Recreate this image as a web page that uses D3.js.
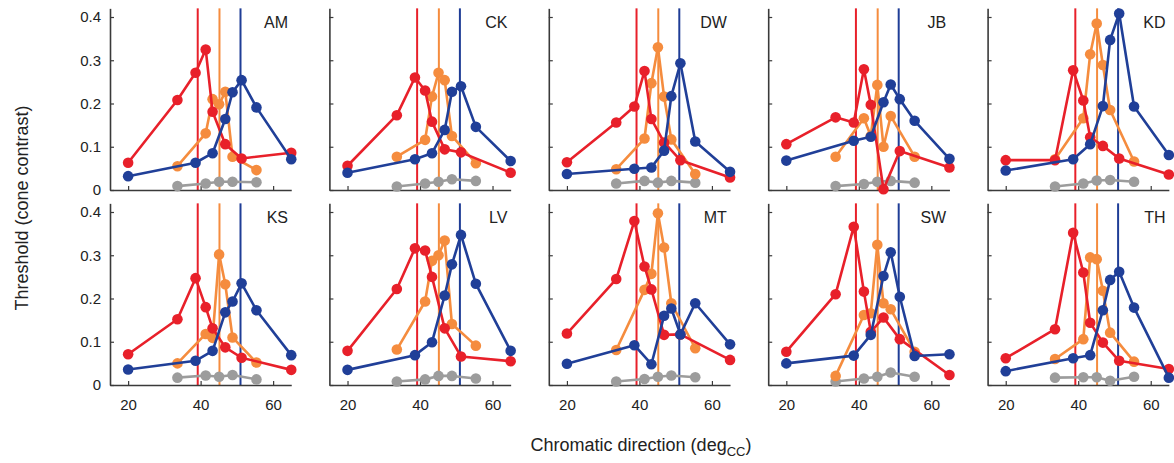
<!DOCTYPE html>
<html>
<head>
<meta charset="utf-8">
<script src="https://cdn.jsdelivr.net/npm/d3@7"></script>
<style>
  html, body { margin: 0; padding: 0; background: #fff; }
  svg { display: block; font-family: "Liberation Sans", Arial, Helvetica, sans-serif; }
</style>
</head>
<body>
<svg id="chart" width="1174" height="463"></svg>
<script>
// ---------- data ----------
const subjects = ["AM", "CK", "DW", "JB", "KD", "KS", "LV", "MT", "SW", "TH"];

const redX    = [20, 33.6, 38.6, 41.4, 43.3, 46.8, 51.3, 65];
const orangeX = [33.6, 41.4, 43.3, 45.1, 46.8, 48.8, 55.4];
const blueX   = [20, 38.6, 43.3, 46.8, 48.8, 51.3, 55.4, 65];
const grayX   = [33.6, 41.4, 45.1, 48.8, 55.4];

const redY = [
  [0.063, 0.208, 0.271, 0.325, 0.181, 0.106, 0.073, 0.086], // AM
  [0.056, 0.173, 0.260, 0.230, 0.158, 0.094, 0.087, 0.040], // CK
  [0.064, 0.156, 0.193, 0.275, 0.164, 0.110, 0.069, 0.029], // DW
  [0.106, 0.168, 0.156, 0.279, 0.197, 0.002, 0.090, 0.052], // JB
  [0.069, 0.069, 0.277, 0.207, 0.122, 0.102, 0.073, 0.036], // KD
  [0.071, 0.152, 0.247, 0.180, 0.131, 0.087, 0.063, 0.035], // KS
  [0.079, 0.222, 0.316, 0.311, 0.250, 0.131, 0.066, 0.055], // LV
  [0.119, 0.245, 0.379, 0.274, 0.221, 0.116, 0.117, 0.058], // MT
  [0.077, 0.210, 0.366, 0.216, 0.123, 0.156, 0.106, 0.023], // SW
  [0.062, 0.129, 0.352, 0.260, 0.144, 0.098, 0.056, 0.037]  // TH
];
const orangeY = [
  [0.055, 0.131, 0.210, 0.198, 0.227, 0.077, 0.046],
  [0.077, 0.116, 0.216, 0.271, 0.254, 0.125, 0.062],
  [0.048, 0.119, 0.247, 0.330, 0.216, 0.117, 0.037],
  [0.077, 0.166, 0.125, 0.243, 0.100, 0.171, 0.077],
  [0.071, 0.166, 0.314, 0.385, 0.289, 0.185, 0.066],
  [0.050, 0.118, 0.109, 0.302, 0.233, 0.110, 0.052],
  [0.082, 0.193, 0.287, 0.300, 0.334, 0.141, 0.091],
  [0.081, 0.220, 0.257, 0.397, 0.318, 0.189, 0.085],
  [0.021, 0.162, 0.166, 0.324, 0.189, 0.175, 0.077],
  [0.060, 0.106, 0.295, 0.291, 0.218, 0.121, 0.054]
];
const blueY = [
  [0.032, 0.063, 0.085, 0.164, 0.226, 0.254, 0.191, 0.071],
  [0.040, 0.071, 0.085, 0.139, 0.227, 0.240, 0.146, 0.067],
  [0.037, 0.049, 0.052, 0.091, 0.217, 0.293, 0.112, 0.042],
  [0.068, 0.114, 0.123, 0.203, 0.244, 0.210, 0.160, 0.072],
  [0.045, 0.071, 0.106, 0.194, 0.347, 0.408, 0.193, 0.081],
  [0.036, 0.056, 0.079, 0.168, 0.193, 0.235, 0.173, 0.069],
  [0.035, 0.069, 0.099, 0.207, 0.279, 0.347, 0.234, 0.079],
  [0.049, 0.092, 0.048, 0.160, 0.177, 0.117, 0.189, 0.094],
  [0.050, 0.068, 0.116, 0.252, 0.307, 0.204, 0.067, 0.071],
  [0.032, 0.062, 0.069, 0.173, 0.243, 0.262, 0.179, 0.017]
];
const grayY = [
  [0.009, 0.015, 0.019, 0.019, 0.018],
  [0.008, 0.015, 0.019, 0.025, 0.021],
  [0.015, 0.021, 0.017, 0.021, 0.017],
  [0.009, 0.014, 0.019, 0.021, 0.017],
  [0.008, 0.015, 0.022, 0.023, 0.019],
  [0.017, 0.022, 0.019, 0.023, 0.013],
  [0.008, 0.013, 0.021, 0.021, 0.015],
  [0.008, 0.014, 0.019, 0.022, 0.018],
  [0.008, 0.015, 0.019, 0.029, 0.019],
  [0.017, 0.018, 0.018, 0.010, 0.019]
];

const refLines = [39.2, 45.2, 51.0];           // red, orange, blue reference directions
const xTicks = [20, 40, 60];
const xTickLabels = ["20", "40", "60"];
const yTicks = [0, 0.1, 0.2, 0.3, 0.4];
const yTickLabels = ["0", "0.1", "0.2", "0.3", "0.4"];
const xTitle = "Chromatic direction (deg";
const xTitleSub = "CC";
const yTitle = "Threshold (cone contrast)";

// ---------- style ----------
const colors = { red: "#e8202a", orange: "#f58c3e", blue: "#203f98", gray: "#9c9c9c" };
const refColors = [colors.red, colors.orange, "#1f3d96"];
const axisColor = "#3a3a3a";

// ---------- layout ----------
const panelW = 181.25, panelH = 181.65;
const colLeft = d3.range(5).map(i => 110 + i * 219.4);
const rowBase = [190, 385];

const x = d3.scaleLinear().domain([15, 65]).range([0, panelW]);
const y = d3.scaleLinear().domain([0, 0.42]).range([panelH, 0]);

const svg = d3.select("#chart");

subjects.forEach((name, i) => {
  const col = i % 5, row = Math.floor(i / 5);
  const g = svg.append("g")
    .attr("transform", `translate(${colLeft[col]},${rowBase[row] - panelH})`);

  // reference vertical lines
  g.selectAll("line.ref").data(refLines).enter().append("line")
    .attr("class", "ref")
    .attr("x1", d => x(d)).attr("x2", d => x(d))
    .attr("y1", y(0)).attr("y2", y(0.42))
    .attr("stroke", (d, k) => refColors[k]).attr("stroke-width", 2);

  // axes
  const xa = d3.axisBottom(x).tickValues(xTicks)
    .tickFormat((d, k) => row === 1 ? xTickLabels[k] : "")
    .tickSizeInner(-4).tickSizeOuter(0).tickPadding(14);
  const gx = g.append("g").attr("transform", `translate(0,${panelH})`).call(xa);

  const ya = d3.axisLeft(y).tickValues(yTicks)
    .tickFormat((d, k) => col === 0 ? yTickLabels[k] : "")
    .tickSizeInner(-4).tickSizeOuter(0).tickPadding(9);
  const gy = g.append("g").call(ya);

  [gx, gy].forEach(a => {
    a.select(".domain").attr("stroke", axisColor).attr("stroke-width", 1.6);
    a.selectAll(".tick line").attr("stroke", axisColor).attr("stroke-width", 1.2);
    a.selectAll(".tick text").attr("fill", "#222").attr("font-size", 15)
      .attr("font-family", "'Liberation Sans', Arial, sans-serif");
  });

  // series
  const series = [
    { xs: grayX,   ys: grayY[i],   c: colors.gray },
    { xs: orangeX, ys: orangeY[i], c: colors.orange },
    { xs: redX,    ys: redY[i],    c: colors.red },
    { xs: blueX,   ys: blueY[i],   c: colors.blue }
  ];
  const line = d3.line().x(d => x(d[0])).y(d => y(d[1]));
  series.forEach(s => {
    const pts = s.xs.map((v, k) => [v, s.ys[k]]);
    g.append("path").datum(pts).attr("d", line)
      .attr("fill", "none").attr("stroke", s.c).attr("stroke-width", 2.6)
      .attr("stroke-linejoin", "round");
    g.selectAll(null).data(pts).enter().append("circle")
      .attr("cx", d => x(d[0])).attr("cy", d => y(d[1])).attr("r", 5.3)
      .attr("fill", s.c);
  });

  // subject label
  g.append("text").attr("x", 178).attr("y", 20)
    .attr("text-anchor", "end").attr("font-size", 16).attr("fill", "#222")
    .text(name);
});

// axis titles
const xt = svg.append("text").attr("x", 641).attr("y", 451)
  .attr("text-anchor", "middle").attr("font-size", 18).attr("fill", "#222");
xt.append("tspan").text(xTitle);
xt.append("tspan").attr("font-size", 13).attr("dy", 5).text(xTitleSub);
xt.append("tspan").attr("dy", -5).text(")");

svg.append("text")
  .attr("transform", "translate(28,208) rotate(-90)")
  .attr("text-anchor", "middle").attr("font-size", 18).attr("fill", "#222")
  .text(yTitle);
</script>
</body>
</html>
